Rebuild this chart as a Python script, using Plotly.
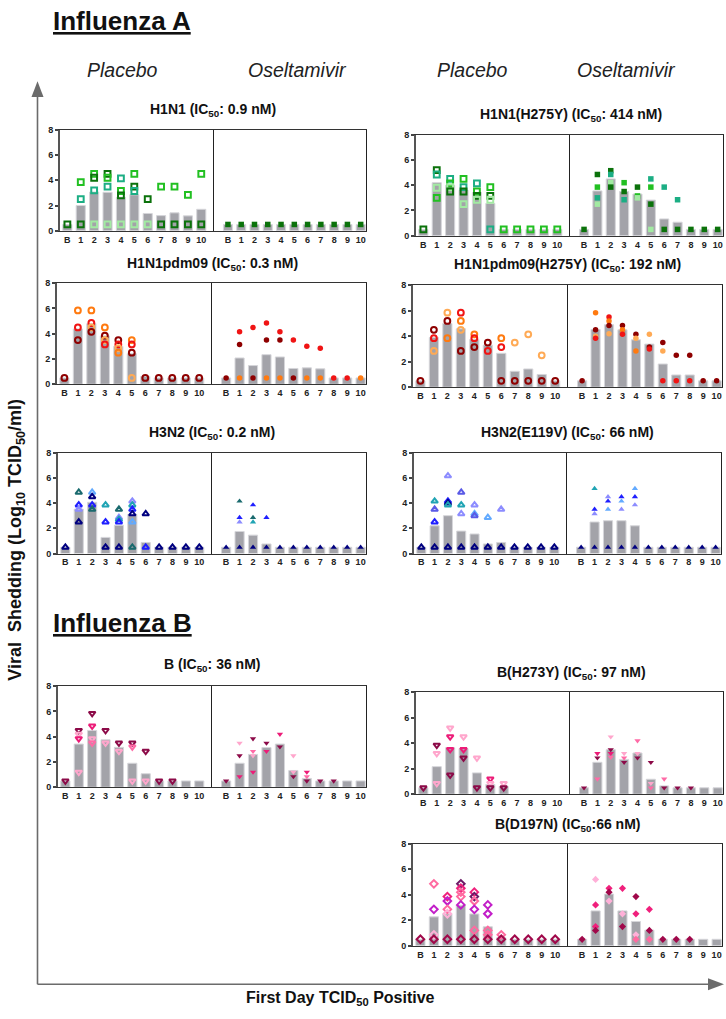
import plotly.graph_objects as go

W, H = 726, 1019
day_labels = ['B', '1', '2', '3', '4', '5', '6', '7', '8', '9', '10']
days = [0, 1, 2, 3, 4, 5, 6, 7, 8, 9, 10]

# ---------------- colours of individual subjects ----------------
green = {'dg': '#0b720b', 'bg': '#22c022', 'tg': '#1cae84', 'lg': '#a2eaa2'}
red = {'dr': '#8e0000', 'rd': '#f01414', 'or': '#ff7a10', 'lo': '#ffaa55'}
blue = {'nv': '#000080', 'bl': '#1f1fff', 'dt': '#1a6a6e', 'cy': '#20a4b4',
        'lb': '#62aaff', 'lv': '#8c8cff', 'sb': '#5a5ae6'}
pink = {'mr': '#8c0a48', 'mg': '#ec1c78', 'pk': '#ff6aa6', 'lp': '#ffa6cc'}
pinkd = {'mr': '#a0084a', 'mg': '#f0207c', 'pk': '#ff6aa0', 'lp': '#ffb0d8',
         'pu': '#6c1a66', 'vi': '#c21ec8'}

# ---------------- data: (day, log10 titre, subject colour) ----------------
h1n1_plc_bar = [0.5, 2.0, 3.07, 3.05, 2.65, 2.85, 1.37, 1.2, 1.42, 1.18, 1.7]
h1n1_plc_pts = [(0, 0.5, 'dg'),
                (1, 3.85, 'bg'), (1, 2.5, 'tg'), (1, 0.5, 'dg'),
                (2, 4.5, 'bg'), (2, 4.2, 'dg'), (2, 3.2, 'tg'), (2, 0.5, 'lg'),
                (3, 4.5, 'dg'), (3, 4.2, 'bg'), (3, 3.5, 'tg'), (3, 0.5, 'lg'),
                (4, 4.15, 'tg'), (4, 3.15, 'bg'), (4, 2.8, 'dg'), (4, 0.5, 'lg'),
                (5, 4.5, 'bg'), (5, 3.5, 'dg'), (5, 3.15, 'tg'), (5, 0.5, 'lg'),
                (6, 2.5, 'dg'), (6, 0.5, 'lg'),
                (7, 3.5, 'bg'), (7, 0.5, 'dg'),
                (8, 3.5, 'bg'), (8, 0.5, 'dg'),
                (9, 2.85, 'bg'), (9, 0.5, 'dg'),
                (10, 4.5, 'bg'), (10, 0.5, 'dg')]
h1n1_osl_bar = [0.5, 0.5, 0.5, 0.5, 0.5, 0.5, 0.5, 0.5, 0.5, 0.5, 0.5]
h1n1_osl_pts = [(0, 0.5, 'dg'), (1, 0.5, 'dg'), (2, 0.5, 'dg'), (3, 0.5, 'dg'),
                (4, 0.5, 'dg'), (5, 0.5, 'dg'), (6, 0.5, 'dg'), (7, 0.5, 'dg'),
                (8, 0.5, 'dg'), (9, 0.5, 'dg'), (10, 0.5, 'dg')]

h275_plc_bar = [0.5, 4.2, 4.0, 3.6, 3.42, 2.56, 0.5, 0.5, 0.5, 0.5, 0.5]
h275_plc_pts = [(0, 0.5, 'dg'),
                (1, 5.2, 'dg'), (1, 4.85, 'tg'), (1, 3.8, 'lg'), (1, 3.0, 'bg'),
                (2, 4.5, 'tg'), (2, 4.15, 'bg'), (2, 3.85, 'lg'), (2, 3.5, 'dg'),
                (3, 4.5, 'bg'), (3, 3.85, 'tg'), (3, 3.5, 'dg'), (3, 2.5, 'lg'),
                (4, 4.15, 'tg'), (4, 3.5, 'bg'), (4, 3.15, 'dg'), (4, 2.85, 'lg'),
                (5, 3.85, 'bg'), (5, 3.15, 'dg'), (5, 2.85, 'lg'), (5, 0.5, 'tg'),
                (6, 0.5, 'bg'), (7, 0.5, 'bg'), (8, 0.5, 'bg'), (9, 0.5, 'bg'),
                (10, 0.5, 'bg')]
h275_osl_bar = [0.5, 3.55, 4.5, 3.5, 3.3, 2.82, 1.33, 1.07, 0.5, 0.5, 0.5]
h275_osl_pts = [(0, 0.5, 'dg'),
                (1, 4.85, 'dg'), (1, 3.85, 'bg'), (1, 3.0, 'tg'), (1, 2.5, 'lg'),
                (2, 5.15, 'dg'), (2, 4.85, 'tg'), (2, 4.2, 'lg'), (2, 3.85, 'dg'),
                (3, 4.2, 'bg'), (3, 3.5, 'dg'), (3, 2.85, 'tg'),
                (4, 3.85, 'dg'), (4, 3.15, 'bg'), (4, 3.0, 'lg'),
                (5, 4.5, 'tg'), (5, 3.85, 'bg'), (5, 2.5, 'dg'), (5, 0.5, 'lg'),
                (6, 3.85, 'tg'), (6, 0.5, 'dg'),
                (7, 2.85, 'tg'), (7, 0.5, 'dg'),
                (8, 0.5, 'dg'), (9, 0.5, 'dg'), (10, 0.5, 'dg')]

pdm_plc_bar = [0.5, 4.38, 4.8, 3.83, 3.0, 2.42, 0.62, 0.5, 0.5, 0.5, 0.5]
pdm_plc_pts = [(0, 0.5, 'dr'),
               (1, 5.85, 'or'), (1, 4.5, 'rd'), (1, 3.5, 'dr'),
               (2, 5.85, 'or'), (2, 4.85, 'rd'), (2, 4.5, 'lo'), (2, 4.15, 'dr'),
               (3, 4.5, 'or'), (3, 3.85, 'dr'), (3, 3.5, 'lo'), (3, 3.15, 'rd'),
               (4, 3.5, 'dr'), (4, 3.15, 'rd'), (4, 2.85, 'lo'), (4, 2.5, 'or'),
               (5, 3.5, 'or'), (5, 3.15, 'rd'), (5, 2.5, 'dr'), (5, 0.5, 'lo'),
               (6, 0.5, 'dr'), (7, 0.5, 'dr'), (8, 0.5, 'dr'), (9, 0.5, 'dr'),
               (10, 0.5, 'dr')]
pdm_osl_bar = [0.5, 2.08, 1.48, 2.34, 2.16, 1.25, 1.3, 1.22, 0.5, 0.5, 0.5]
pdm_osl_pts = [(0, 0.5, 'dr'),
               (1, 4.15, 'rd'), (1, 3.15, 'dr'), (1, 0.5, 'or'),
               (2, 4.5, 'rd'), (2, 0.5, 'dr'),
               (3, 4.85, 'rd'), (3, 3.5, 'dr'), (3, 0.5, 'or'),
               (4, 4.15, 'rd'), (4, 3.5, 'dr'), (4, 0.5, 'or'),
               (5, 3.5, 'rd'), (5, 0.5, 'dr'),
               (6, 3.0, 'rd'), (6, 0.5, 'or'),
               (7, 2.85, 'rd'), (7, 0.5, 'or'),
               (8, 0.5, 'rd'), (9, 0.5, 'rd'), (10, 0.5, 'or')]

pdmh_plc_bar = [0.5, 3.9, 5.0, 4.58, 3.75, 3.3, 2.66, 1.25, 1.43, 1.0, 0.5]
pdmh_plc_pts = [(0, 0.5, 'dr'),
                (1, 4.5, 'dr'), (1, 3.85, 'rd'), (1, 2.85, 'lo'),
                (2, 5.85, 'lo'), (2, 5.2, 'dr'), (2, 3.85, 'or'),
                (3, 5.85, 'rd'), (3, 5.2, 'or'), (3, 4.5, 'lo'), (3, 2.85, 'dr'),
                (4, 4.15, 'or'), (4, 3.85, 'rd'), (4, 3.15, 'dr'),
                (5, 3.5, 'dr'), (5, 2.85, 'rd'),
                (6, 3.85, 'or'), (6, 3.15, 'rd'), (6, 0.5, 'dr'),
                (7, 3.5, 'lo'), (7, 0.5, 'dr'),
                (8, 4.15, 'lo'), (8, 0.5, 'dr'),
                (9, 2.5, 'lo'), (9, 0.5, 'dr'),
                (10, 0.5, 'dr')]
pdmh_osl_bar = [0.5, 4.53, 4.9, 4.5, 3.72, 3.38, 1.82, 0.96, 0.96, 0.5, 0.5]
pdmh_osl_pts = [(0, 0.5, 'dr'),
                (1, 5.85, 'or'), (1, 4.5, 'dr'), (1, 4.0, 'lo'), (1, 3.85, 'rd'),
                (2, 5.5, 'rd'), (2, 5.2, 'or'), (2, 4.85, 'dr'), (2, 4.2, 'lo'),
                (3, 4.85, 'dr'), (3, 4.5, 'or'), (3, 4.15, 'rd'),
                (4, 4.15, 'dr'), (4, 3.85, 'lo'), (4, 2.85, 'or'),
                (5, 4.15, 'lo'), (5, 3.15, 'dr'), (5, 3.0, 'rd'),
                (6, 3.5, 'dr'), (6, 2.85, 'lo'), (6, 0.5, 'rd'),
                (7, 2.5, 'dr'), (7, 0.5, 'rd'),
                (8, 2.5, 'dr'), (8, 0.5, 'rd'),
                (9, 0.5, 'dr'), (10, 0.5, 'dr')]

h3_plc_bar = [0.5, 3.52, 4.06, 1.28, 2.24, 3.1, 0.88, 0.5, 0.5, 0.5, 0.5]
h3_plc_pts = [(0, 0.5, 'nv'),
              (1, 4.85, 'dt'), (1, 3.85, 'bl'), (1, 3.5, 'lv'), (1, 2.5, 'nv'),
              (2, 4.85, 'lb'), (2, 4.5, 'nv'), (2, 3.85, 'bl'), (2, 3.5, 'dt'),
              (3, 3.85, 'cy'), (3, 2.5, 'bl'), (3, 0.5, 'nv'),
              (4, 3.5, 'dt'), (4, 2.85, 'lv'), (4, 2.7, 'cy'), (4, 2.5, 'bl'), (4, 0.5, 'nv'),
              (5, 4.15, 'lv'), (5, 3.85, 'cy'), (5, 3.5, 'bl'), (5, 3.15, 'nv'),
              (5, 2.5, 'lb'), (5, 0.5, 'dt'),
              (6, 3.15, 'nv'), (6, 0.5, 'bl'),
              (7, 0.5, 'nv'), (8, 0.5, 'nv'), (9, 0.5, 'nv'), (10, 0.5, 'nv')]
h3_osl_bar = [0.5, 1.75, 1.46, 0.76, 0.5, 0.5, 0.5, 0.5, 0.5, 0.5, 0.5]
h3_osl_pts = [(0, 0.5, 'nv'),
              (1, 4.15, 'dt'), (1, 2.85, 'bl'), (1, 2.5, 'lv'), (1, 0.5, 'nv'),
              (2, 3.85, 'bl'), (2, 2.85, 'dt'), (2, 2.5, 'cy'), (2, 0.5, 'nv'),
              (3, 2.85, 'bl'), (3, 0.5, 'nv'),
              (4, 0.5, 'nv'), (5, 0.5, 'nv'), (6, 0.5, 'nv'), (7, 0.5, 'nv'),
              (8, 0.5, 'nv'), (9, 0.5, 'nv'), (10, 0.5, 'nv')]

e119_plc_bar = [0.5, 2.2, 3.0, 1.78, 1.55, 0.76, 0.88, 0.5, 0.5, 0.5, 0.5]
e119_plc_pts = [(0, 0.5, 'nv'),
                (1, 4.15, 'cy'), (1, 3.5, 'sb'), (1, 2.5, 'bl'), (1, 0.5, 'nv'),
                (2, 6.15, 'lv'), (2, 4.15, 'bl'), (2, 4.0, 'nv'), (2, 3.85, 'cy'), (2, 0.5, 'nv'),
                (3, 4.85, 'sb'), (3, 3.85, 'cy'), (3, 3.15, 'lv'), (3, 0.5, 'nv'),
                (4, 3.85, 'lv'), (4, 3.15, 'lb'), (4, 3.0, 'sb'), (4, 0.5, 'nv'),
                (5, 2.85, 'lb'), (5, 0.5, 'nv'),
                (6, 3.5, 'lv'), (6, 0.5, 'nv'),
                (7, 0.5, 'nv'), (8, 0.5, 'nv'), (9, 0.5, 'nv'), (10, 0.5, 'nv')]
e119_osl_bar = [0.5, 2.5, 2.6, 2.6, 2.2, 0.5, 0.5, 0.5, 0.5, 0.5, 0.5]
e119_osl_pts = [(0, 0.5, 'nv'),
                (1, 5.15, 'cy'), (1, 3.5, 'bl'), (1, 3.15, 'lv'), (1, 0.5, 'nv'),
                (2, 4.5, 'lv'), (2, 4.15, 'bl'), (2, 3.5, 'lb'), (2, 0.5, 'nv'),
                (3, 4.5, 'bl'), (3, 4.15, 'lb'), (3, 3.5, 'lv'), (3, 0.5, 'nv'),
                (4, 5.15, 'lb'), (4, 4.5, 'bl'), (4, 3.85, 'lv'), (4, 0.5, 'nv'),
                (5, 0.5, 'nv'), (6, 0.5, 'nv'), (7, 0.5, 'nv'), (8, 0.5, 'nv'),
                (9, 0.5, 'nv'), (10, 0.5, 'nv')]

b_plc_bar = [0.5, 3.42, 4.5, 3.76, 3.16, 1.9, 1.07, 0.5, 0.5, 0.5, 0.5]
b_plc_pts = [(0, 0.5, 'mr'),
             (1, 4.5, 'mr'), (1, 4.2, 'lp'), (1, 3.85, 'mg'), (1, 1.2, 'lp'),
             (2, 5.85, 'mr'), (2, 4.85, 'mg'), (2, 3.85, 'lp'), (2, 3.5, 'pk'),
             (3, 4.5, 'mr'), (3, 3.5, 'lp'),
             (4, 3.5, 'mr'), (4, 2.85, 'lp'),
             (5, 3.5, 'mr'), (5, 3.2, 'pk'), (5, 0.5, 'lp'),
             (6, 2.85, 'mr'), (6, 0.5, 'lp'),
             (7, 0.5, 'mr'), (8, 0.5, 'mr')]
b_osl_bar = [0.5, 1.9, 2.6, 3.14, 3.42, 1.33, 0.7, 0.5, 0.5, 0.5, 0.5]
b_osl_pts = [(0, 0.5, 'mr'),
             (1, 3.5, 'lp'), (1, 2.5, 'mr'), (1, 0.85, 'mg'),
             (2, 3.85, 'mr'), (2, 2.85, 'pk'), (2, 2.5, 'lp'), (2, 1.2, 'mg'),
             (3, 3.5, 'mr'), (3, 2.85, 'mg'),
             (4, 4.2, 'mg'), (4, 3.2, 'mr'),
             (5, 2.5, 'lp'), (5, 1.2, 'lp'), (5, 0.85, 'mr'),
             (6, 1.2, 'mg'), (6, 0.85, 'pk'), (6, 0.5, 'mr'),
             (7, 0.5, 'mr'), (8, 0.5, 'mr')]

h273_plc_bar = [0.5, 2.16, 3.65, 3.57, 1.67, 0.76, 0.6, None, None, None, None]
h273_plc_pts = [(0, 0.5, 'mr'),
                (1, 3.85, 'mr'), (1, 3.2, 'lp'), (1, 0.85, 'lp'),
                (2, 5.2, 'lp'), (2, 4.5, 'mg'), (2, 3.5, 'mg'), (2, 1.5, 'mr'),
                (3, 4.5, 'lp'), (3, 3.5, 'mg'), (3, 2.85, 'mr'),
                (4, 2.85, 'lp'), (4, 0.5, 'mr'),
                (5, 1.2, 'mg'), (5, 0.85, 'lp'), (5, 0.5, 'mr'),
                (6, 0.85, 'lp'), (6, 0.5, 'mr')]
h273_osl_bar = [0.5, 2.5, 3.49, 2.73, 3.23, 1.17, 0.65, 0.5, 0.5, 0.5, 0.5]
h273_osl_pts = [(0, 0.5, 'mr'),
                (1, 3.2, 'mg'), (1, 2.85, 'mr'), (1, 1.2, 'pk'),
                (2, 4.5, 'lp'), (2, 3.5, 'mr'), (2, 3.2, 'mg'), (2, 2.9, 'pk'),
                (3, 3.2, 'lp'), (3, 2.85, 'pk'), (3, 2.5, 'mr'),
                (4, 4.2, 'pk'), (4, 3.2, 'lp'), (4, 2.85, 'mr'),
                (5, 2.5, 'mr'), (5, 0.85, 'lp'), (5, 0.5, 'pk'),
                (6, 1.2, 'pk'), (6, 0.5, 'mr'),
                (7, 0.5, 'mr'), (8, 0.5, 'mr')]

d197_plc_bar = [0.5, 2.26, 2.49, 3.17, 2.49, 1.48, 0.62, 0.5, 0.5, 0.5, 0.5]
d197_plc_pts = [(0, 0.5, 'mr'),
                (1, 4.85, 'pk'), (1, 2.85, 'vi'), (1, 0.85, 'lp'), (1, 0.5, 'mr'),
                (2, 3.85, 'mg'), (2, 3.5, 'vi'), (2, 2.85, 'pk'), (2, 2.5, 'lp'), (2, 0.5, 'mr'),
                (3, 4.85, 'pu'), (3, 4.5, 'mg'), (3, 4.2, 'pk'), (3, 3.85, 'pk'),
                (3, 3.2, 'vi'), (3, 0.5, 'mr'),
                (4, 4.2, 'mg'), (4, 3.85, 'pu'), (4, 3.5, 'pk'), (4, 2.85, 'vi'),
                (4, 1.2, 'pk'), (4, 0.5, 'mr'),
                (5, 3.2, 'vi'), (5, 2.5, 'vi'), (5, 1.2, 'pk'), (5, 0.85, 'pk'), (5, 0.5, 'mr'),
                (6, 0.85, 'pk'), (6, 0.5, 'mr'),
                (7, 0.5, 'mr'), (8, 0.5, 'mr'), (9, 0.5, 'mr'), (10, 0.5, 'mr')]
d197_osl_bar = [0.5, 2.73, 4.05, 2.73, 1.9, 1.22, 0.5, 0.5, 0.5, 0.5, 0.5]
d197_osl_pts = [(0, 0.5, 'mr'),
                (1, 5.2, 'lp'), (1, 3.2, 'mg'), (1, 1.5, 'mg'), (1, 1.2, 'mr'),
                (2, 4.5, 'mg'), (2, 4.2, 'mr'), (2, 3.5, 'lp'),
                (3, 4.5, 'mg'), (3, 2.5, 'lp'), (3, 1.5, 'mr'),
                (4, 3.85, 'mr'), (4, 2.5, 'mg'), (4, 0.85, 'lp'), (4, 0.5, 'pk'),
                (5, 2.85, 'mg'), (5, 1.2, 'mr'), (5, 0.5, 'pk'),
                (6, 0.5, 'mr'), (7, 0.5, 'mr'), (8, 0.5, 'mr')]

titles = ['H1N1 (IC<sub>50</sub>: 0.9 nM)', 'H1N1(H275Y) (IC<sub>50</sub>: 414 nM)',
          'H1N1pdm09 (IC<sub>50</sub>: 0.3 nM)', 'H1N1pdm09(H275Y) (IC<sub>50</sub>: 192 nM)',
          'H3N2 (IC<sub>50</sub>: 0.2 nM)', 'H3N2(E119V) (IC<sub>50</sub>: 66 nM)',
          'B (IC<sub>50</sub>: 36 nM)', 'B(H273Y) (IC<sub>50</sub>: 97 nM)',
          'B(D197N) (IC<sub>50</sub>:66 nM)']

# ---------------- layout of panels (pixels) ----------------
# (data, colours, symbol, x_left, x_mid, x_right, y_top, y_bottom, title_x, title_y)
panels = [
    ((h1n1_plc_bar, h1n1_plc_pts, h1n1_osl_bar, h1n1_osl_pts), green, 'square', 60, 214, 366, 126, 228, 213, 106),
    ((h275_plc_bar, h275_plc_pts, h275_osl_bar, h275_osl_pts), green, 'square', 416, 570, 723, 131, 233, 571, 111),
    ((pdm_plc_bar, pdm_plc_pts, pdm_osl_bar, pdm_osl_pts), red, 'circle', 57, 212, 366, 281, 383, 212, 262),
    ((pdmh_plc_bar, pdmh_plc_pts, pdmh_osl_bar, pdmh_osl_pts), red, 'circle', 413, 568, 722, 283, 386, 567, 263),
    ((h3_plc_bar, h3_plc_pts, h3_osl_bar, h3_osl_pts), blue, 'triangle-up', 58, 212, 366, 452, 554, 212, 432),
    ((e119_plc_bar, e119_plc_pts, e119_osl_bar, e119_osl_pts), blue, 'triangle-up', 414, 567, 721, 452, 554, 567, 432),
    ((b_plc_bar, b_plc_pts, b_osl_bar, b_osl_pts), pink, 'triangle-down', 58, 212, 366, 688, 790, 212, 667),
    ((h273_plc_bar, h273_plc_pts, h273_osl_bar, h273_osl_pts), pink, 'triangle-down', 416, 570, 723, 694, 797, 571, 675),
    ((d197_plc_bar, d197_plc_pts, d197_osl_bar, d197_osl_pts), pinkd, 'diamond', 413, 568, 722, 847, 950, 567, 828),
]

FONT = 'Liberation Sans, Arial, Helvetica, sans-serif'
tickfont = dict(family=FONT, size=9, color='#222222', weight='bold')

fig = go.Figure()
lay = {}
ann = []
k = 0
for (data, cmap, sym, xl, xm, xr, yt, yb, tx, ty), title in zip(panels, titles):
    plc_bar, plc_pts, osl_bar, osl_pts = data
    for half, (bars, pts, xa, xb, rng) in enumerate([
            (plc_bar, plc_pts, xl, xm, [-0.55, 10.95]),
            (osl_bar, osl_pts, xm, xr, [-1.05, 10.4])]):
        k += 1
        sfx = '' if k == 1 else str(k)
        xref, yref = 'x' + sfx, 'y' + sfx
        fig.add_trace(go.Bar(x=days, y=bars, width=0.68, xaxis=xref, yaxis=yref,
                             marker=dict(color='#a3a3a9', line=dict(color='#d6d6da', width=1)),
                             showlegend=False, hoverinfo='skip'))
        px = [p[0] for p in pts]
        py = [p[1] for p in pts]
        pc = [cmap[p[2]] for p in pts]
        if half == 0:
            mk = dict(symbol=sym + '-open', color=pc, size=5.8, line=dict(width=2, color=pc))
        else:
            mk = dict(symbol=sym, color=pc, size=5.5, line=dict(width=0))
        fig.add_trace(go.Scatter(x=px, y=py, mode='markers', marker=mk, xaxis=xref, yaxis=yref,
                                 showlegend=False, hoverinfo='skip', cliponaxis=False))
        lay['xaxis' + sfx] = dict(domain=[xa / W, xb / W], anchor=yref, range=rng,
                                  tickmode='array', tickvals=days, ticktext=day_labels,
                                  showline=True, linecolor='#333333', linewidth=1.2, mirror=True,
                                  ticks='', showgrid=False, zeroline=False, tickfont=tickfont,
                                  fixedrange=True)
        yd = dict(domain=[1 - yb / H, 1 - yt / H], anchor=xref, range=[0, 8],
                  showgrid=False, zeroline=False, fixedrange=True, showline=True)
        if half == 0:
            yd.update(tickmode='array', tickvals=[0, 2, 4, 6, 8], ticks='outside', ticklen=3,
                      tickwidth=1.5, tickcolor='#444444', linecolor='#555555', linewidth=1.8,
                      tickfont=tickfont)
        else:
            yd.update(showticklabels=False, ticks='', linecolor='#222222', linewidth=1.1,
                      mirror=True)
        lay['yaxis' + sfx] = yd
    ann.append(dict(text='<b>' + title + '</b>', x=tx / W, y=1 - ty / H, xref='paper', yref='paper',
                    showarrow=False, xanchor='center', yanchor='middle',
                    font=dict(family=FONT, size=14, color='#111111')))

# headings and group labels
ann += [
    dict(text='<u><b>Influenza A</b></u>', x=51 / W, y=1 - 16 / H, xanchor='left', yanchor='middle',
         font=dict(family=FONT, size=26, color='#111111')),
    dict(text='<u><b>Influenza B</b></u>', x=51 / W, y=1 - 624 / H, xanchor='left', yanchor='middle',
         font=dict(family=FONT, size=26, color='#111111')),
]
for lbl, cx in [('Placebo', 122), ('Oseltamivir', 297), ('Placebo', 472), ('Oseltamivir', 626)]:
    ann.append(dict(text='<i>' + lbl + '</i>', x=cx / W, y=1 - 66 / H, xanchor='center',
                    yanchor='middle', font=dict(family=FONT, size=19.5, color='#222222')))
ann.append(dict(text='<b>Viral  Shedding (Log<sub>10</sub> TCID<sub>50</sub>/ml)</b>', x=17 / W,
                y=1 - 540 / H, textangle=-90, xanchor='center', yanchor='middle',
                font=dict(family=FONT, size=18, color='#111111')))
ann.append(dict(text='<b>First Day TCID<sub>50</sub> Positive</b>', x=340 / W, y=1 - 1003 / H,
                xanchor='center', yanchor='middle', font=dict(family=FONT, size=16, color='#111111')))
for a in ann:
    a.setdefault('xref', 'paper')
    a.setdefault('yref', 'paper')
    a.setdefault('showarrow', False)

# axis arrows
AC = '#6b6b6b'
def P(xp, yp):
    return f'{xp / W:.5f},{1 - yp / H:.5f}'
shapes = [
    dict(type='line', xref='paper', yref='paper', x0=37.5 / W, x1=37.5 / W, y0=1 - 989 / H,
         y1=1 - 90 / H, line=dict(color=AC, width=1.6)),
    dict(type='line', xref='paper', yref='paper', x0=37.5 / W, x1=710 / W, y0=1 - 989 / H,
         y1=1 - 989 / H, line=dict(color=AC, width=1.6)),
    dict(type='path', xref='paper', yref='paper',
         path=f'M{P(37.5, 77)} L{P(31.5, 93)} L{P(43.5, 93)} Z', fillcolor=AC, line=dict(width=0)),
    dict(type='path', xref='paper', yref='paper',
         path=f'M{P(724, 989)} L{P(708, 983)} L{P(708, 995)} Z', fillcolor=AC, line=dict(width=0)),
]

fig.update_layout(width=W, height=H, margin=dict(l=0, r=0, t=0, b=0),
                  paper_bgcolor='white', plot_bgcolor='white', barmode='overlay',
                  annotations=ann, shapes=shapes, **lay)
fig.write_html('out.html', config={'displayModeBar': False},
               post_script="document.body.style.margin='0px';")
